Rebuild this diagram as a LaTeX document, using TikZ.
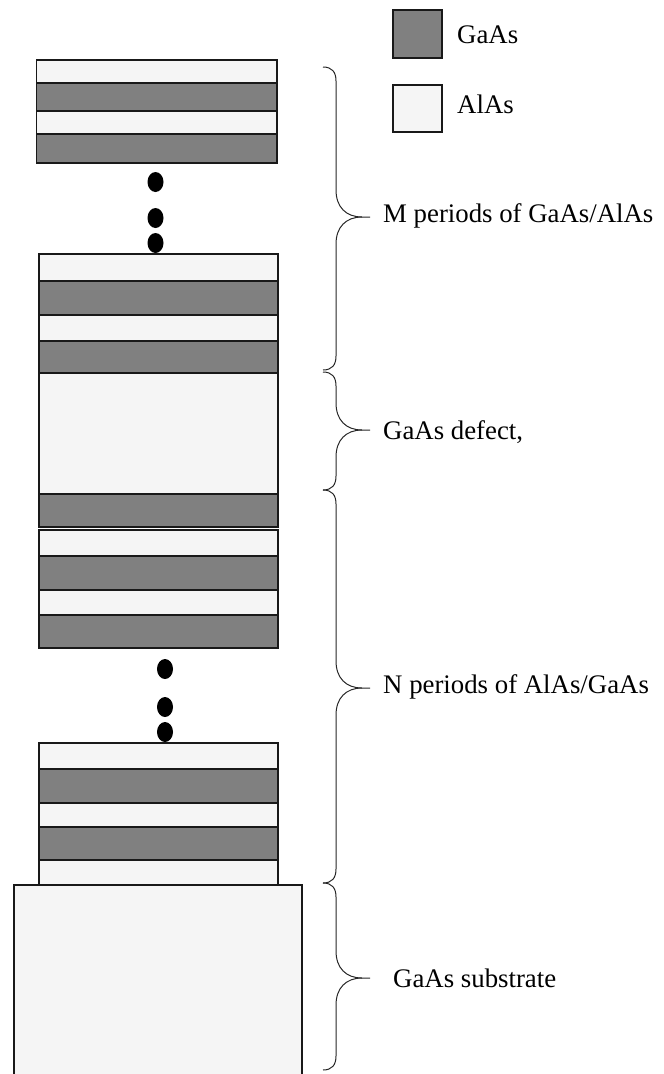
\documentclass[tikz,border=0pt]{standalone}
\usepackage{fontspec}
\setmainfont{Liberation Serif}
\definecolor{gaas}{RGB}{128,128,128}
\definecolor{alas}{RGB}{245,245,245}
\definecolor{edge}{RGB}{25,25,25}
\tikzset{
  gaaslayer/.style={fill=gaas,draw=edge,line width=1.5pt},
  alaslayer/.style={fill=alas,draw=edge,line width=1.5pt},
  bracepath/.style={draw=black!85,line width=1pt},
  lbl/.style={anchor=base west,inner sep=0pt,font=\fontsize{26.8bp}{32bp}\selectfont},
  dotmark/.style={fill=black,draw=none}
}
\newcommand{\curlybrace}[3]{% top, tip, bottom (y in px)
  \draw[bracepath] (323,#1) .. controls (332,#1) and (336,#1+5) .. (336,#1+14)
    -- (336,#2-27) .. controls (336,#2-10) and (346,#2) .. (362,#2) -- (370,#2);
  \draw[bracepath] (362,#2) .. controls (346,#2) and (336,#2+10) .. (336,#2+27)
    -- (336,#3-14) .. controls (336,#3-5) and (332,#3) .. (323,#3);
}
\begin{document}
\begin{tikzpicture}[x=1bp,y=-1bp]
\useasboundingbox (0,0) rectangle (664,1074);
% legend
\draw[gaaslayer,line width=1.2pt] (393,10) rectangle (442,58);
\node[lbl] (lgaas) at (457,43) {GaAs};
\draw[alaslayer,line width=1.2pt] (393,85) rectangle (442,132);
\node[lbl] (lalas) at (457,113) {AlAs};
% top stack
\draw[alaslayer] (36.5,60) rectangle (277,83);
\draw[gaaslayer] (36.5,83) rectangle (277,111);
\draw[alaslayer] (36.5,111) rectangle (277,134);
\draw[gaaslayer] (36.5,134) rectangle (277,163);
% dots 1
\fill[dotmark] (155.5,182) ellipse (8 and 10);
\fill[dotmark] (155.5,218) ellipse (8 and 10);
\fill[dotmark] (155.5,243) ellipse (8 and 10);
% second stack
\draw[alaslayer] (39,254) rectangle (278,281);
\draw[gaaslayer] (39,281) rectangle (278,315);
\draw[alaslayer] (39,315) rectangle (278,341);
\draw[gaaslayer] (39,341) rectangle (278,373);
\draw[alaslayer] (39,373) rectangle (278,494);
\draw[gaaslayer] (39,494) rectangle (278,527);
% third stack
\draw[alaslayer] (39,530) rectangle (278,556);
\draw[gaaslayer] (39,556) rectangle (278,590);
\draw[alaslayer] (39,590) rectangle (278,615);
\draw[gaaslayer] (39,615) rectangle (278,648);
% dots 2
\fill[dotmark] (165,669) ellipse (8 and 10);
\fill[dotmark] (165,707) ellipse (8 and 10);
\fill[dotmark] (165,732) ellipse (8 and 10);
% fourth stack
\draw[alaslayer] (39,743) rectangle (278,769);
\draw[gaaslayer] (39,769) rectangle (278,803);
\draw[alaslayer] (39,803) rectangle (278,827);
\draw[gaaslayer] (39,827) rectangle (278,860);
\draw[alaslayer] (39,860) rectangle (278,885);
% substrate
\fill[alas] (14,885) rectangle (302,1074);
\draw[draw=edge,line width=1.5pt] (14,1074) -- (14,885) -- (302,885) -- (302,1074);
% braces
\curlybrace{67}{217}{370}
\curlybrace{372}{430}{490}
\curlybrace{490}{688}{883}
\curlybrace{883}{978}{1070}
% labels
\node[lbl] (lm) at (383,222) {M periods of GaAs/AlAs};
\node[lbl] (ld) at (383,439) {GaAs defect,};
\node[lbl] (ln) at (383,693) {N periods of AlAs/GaAs};
\node[lbl] (ls) at (393,987) {GaAs substrate};
\end{tikzpicture}
\end{document}
